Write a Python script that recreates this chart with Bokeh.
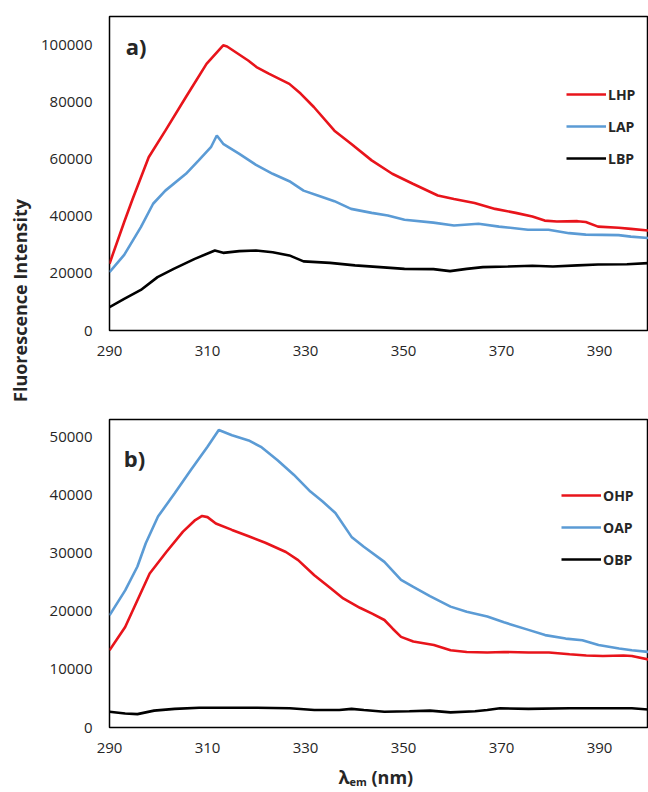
from bokeh.plotting import figure
from bokeh.layouts import row, column
from bokeh.models import Range1d, Label, Legend, LegendItem, FixedTicker, NumeralTickFormatter
from bokeh.embed import file_html
from bokeh.resources import INLINE
import math

# ---------------- data ----------------
x_ticks = [290, 310, 330, 350, 370, 390]
y_ticks_a = [0, 20000, 40000, 60000, 80000, 100000]
y_ticks_b = [0, 10000, 20000, 30000, 40000, 50000]

# panel a)
wl_lhp = [290, 293, 294.7, 298, 301.4, 305.6, 309.8, 313.2, 314, 318.3, 320, 322.5, 326.7, 329, 331.7,
          335.9, 339.3, 343.5, 347.7, 351.9, 357, 360.3, 364.5, 368.7, 372.9, 376.3, 378.8,
          381.3, 385.5, 387.2, 389.7, 393.9, 396.4, 400]
lhp = [23400, 38000, 46000, 60700, 70000, 81800, 93400, 99900, 99500, 94600, 92300, 90000, 86400, 83000,
       78300, 70000, 65400, 59600, 54900, 51400, 47300, 46100, 44700, 42600, 41200, 39900, 38500,
       38200, 38300, 38000, 36400, 36000, 35600, 35000]

wl_lap = [290, 293, 296.4, 298.9, 301.4, 305.6, 308.2, 310.7, 311.9, 313.2, 316.5, 319.9, 323.3,
          326.7, 329.6, 332.5, 335.9, 339.3, 343.5, 346.8, 350.2, 356.1, 360.3, 365.3, 369.5,
          375.4, 379.6, 383.8, 387.2, 393.9, 396.4, 400]
lap = [20400, 26500, 36200, 44400, 49000, 54900, 59600, 64200, 68300, 65400, 61900, 58000, 54900,
       52300, 49000, 47300, 45300, 42600, 41200, 40300, 38800, 37800, 36800, 37400, 36400,
       35300, 35300, 34100, 33600, 33400, 32900, 32400]

wl_lbp = [290, 293, 296.4, 299.8, 303.1, 307.4, 311.5, 313.2, 316.5, 319.9, 323.3, 326.7, 329.6,
          335, 340.1, 345.2, 350.2, 356.1, 359.5, 362.9, 366.2, 371.3, 376.3, 380.5, 385.5,
          389.7, 395.6, 400]
lbp = [8200, 11100, 14200, 18700, 21600, 25100, 28000, 27200, 27800, 28000, 27400, 26300, 24200,
       23700, 22800, 22200, 21600, 21500, 20800, 21600, 22200, 22400, 22700, 22400, 22800,
       23100, 23200, 23600]

# panel b)
wl_oap = [290, 293.2, 295.7, 297.4, 299.9, 303.3, 306.6, 310, 312.3, 315, 318.4, 320.9, 324.3,
          327.6, 331, 333.5, 336.1, 339.4, 341.9, 346.1, 349.5, 352, 355.4, 359.6, 362.9,
          367.1, 370.5, 375.5, 378.9, 383.1, 386.5, 389.8, 394, 396.6, 400]
oap = [19300, 23600, 27700, 31700, 36300, 40300, 44300, 48300, 51200, 50300, 49400, 48300, 46000,
       43500, 40600, 38900, 36900, 32800, 31100, 28500, 25400, 24200, 22600, 20800, 19900,
       19100, 18100, 16800, 15900, 15300, 15000, 14200, 13600, 13300, 13000]

wl_ohp = [290, 293.2, 295.7, 298.2, 301.6, 305, 307.5, 308.9, 310, 311.7, 315, 318.4, 321.8,
          326, 328.5, 331.8, 335.2, 337.7, 341.1, 343.6, 346.1, 347.8, 349.5, 352, 356.2,
          359.6, 362.9, 367.1, 370.5, 375.5, 379.7, 383.9, 387.3, 390.7, 394.9, 396.6, 400]
ohp = [13300, 17300, 21900, 26500, 30200, 33700, 35700, 36400, 36200, 35100, 34000, 32900, 31800,
       30200, 28800, 26200, 23900, 22200, 20600, 19600, 18500, 17000, 15600, 14800, 14200,
       13300, 13000, 12900, 13000, 12900, 12900, 12600, 12400, 12300, 12400, 12300, 11700]

wl_obp = [290, 293.2, 295.7, 299.1, 303.3, 308.3, 315, 320.1, 326.8, 331.8, 336.9, 339.4, 341.9,
          346.1, 351.2, 355.4, 359.6, 364.6, 367.1, 369.7, 375.5, 383.9, 390.7, 396.6, 400]
obp = [2700, 2400, 2300, 2900, 3200, 3400, 3400, 3400, 3300, 3000, 3000, 3200, 3000,
       2700, 2800, 2900, 2600, 2800, 3000, 3300, 3200, 3300, 3300, 3300, 3100]

RED = "#E8141B"
BLUE = "#5B9BD5"
BLACK = "#000000"
FONT = "Open Sans"
TXT = "#262626"
LEFT = 71          # left border of the panels (frame starts at x = 38 + 71 = 109)
FRAME_W = 539


def panel(height, top, bottom, ymax, yticks, series, tag, tag_y, legend_xy):
    p = figure(width=LEFT + FRAME_W, height=height, x_range=Range1d(290, 400),
               y_range=Range1d(0, ymax), output_backend="svg", toolbar_location=None, title=None,
               min_border_left=LEFT, min_border_right=0, min_border_top=top,
               min_border_bottom=bottom)
    p.xgrid.visible = False
    p.ygrid.visible = False
    p.outline_line_color = "black"
    p.outline_line_width = 1.5
    p.background_fill_color = "white"
    for ax in (p.xaxis[0], p.yaxis[0]):
        ax.axis_line_color = None
        ax.major_tick_in = 0
        ax.major_tick_out = 0
        ax.minor_tick_line_color = None
        ax.major_tick_line_color = None
        ax.major_label_text_font = FONT
        ax.major_label_text_font_size = "15px"
        ax.major_label_text_color = TXT
    p.xaxis.ticker = FixedTicker(ticks=x_ticks)
    p.yaxis.ticker = FixedTicker(ticks=yticks)
    p.yaxis.formatter = NumeralTickFormatter(format="0")
    p.xaxis.major_label_standoff = 15
    p.yaxis.major_label_standoff = 17
    items = []
    for (xs, ys, col, name) in series:
        r = p.line(xs, ys, line_color=col, line_width=2.6)
        items.append(LegendItem(label=name, renderers=[r]))
    leg = Legend(items=items, location=legend_xy, glyph_width=40, glyph_height=20,
                 label_height=20, spacing=12, padding=0, margin=0, label_standoff=2,
                 border_line_color=None, background_fill_alpha=0,
                 label_text_font=FONT, label_text_font_style="bold",
                 label_text_font_size="14px", label_text_color=TXT)
    p.add_layout(leg)
    p.add_layout(Label(x=tag[0], y=tag_y, text=tag[1], text_font=FONT, text_font_style="bold",
                       text_font_size="22px", text_align="left", text_baseline="middle",
                       text_color=TXT))
    return p


top = panel(400, 16, 70, 110000, y_ticks_a,
            [(wl_lhp, lhp, RED, "LHP"), (wl_lap, lap, BLUE, "LAP"), (wl_lbp, lbp, BLACK, "LBP")],
            (293.3, "a)"), 99800, (457, 162))
bot = panel(360, 19, 33, 53000, y_ticks_b,
            [(wl_ohp, ohp, RED, "OHP"), (wl_oap, oap, BLUE, "OAP"), (wl_obp, obp, BLACK, "OBP")],
            (292.9, "b)"), 46300, (452, 158))


def blank(w, h, left=0, top_b=0):
    fw = w - left
    fh = h - top_b
    f = figure(width=w, height=h, x_range=Range1d(0, fw), y_range=Range1d(0, fh),
               x_axis_type=None, y_axis_type=None, output_backend="svg", toolbar_location=None,
               title=None, min_border=0, min_border_left=left, min_border_right=0,
               min_border_top=top_b, min_border_bottom=0)
    f.xgrid.visible = False
    f.ygrid.visible = False
    f.outline_line_color = None
    return f


# y-axis title column (x 0..38, frame from y=16 down to 790)
ylab = blank(38, 790, left=0, top_b=16)
ylab.add_layout(Label(x=19, y=774 - (300 - 16), text="Fluorescence Intensity", angle=math.pi / 2,
                      text_font=FONT, text_font_style="bold", text_font_size="18px",
                      text_align="center", text_baseline="middle", text_color=TXT))

# x-axis title strip (frame aligned with the panels' frames)
xlab = blank(LEFT + FRAME_W, 30, left=LEFT, top_b=0)
xlab.add_layout(Label(x=229, y=14, text="λ", text_font=FONT, text_font_style="bold",
                      text_font_size="18px", text_align="left", text_baseline="middle", text_color=TXT))
xlab.add_layout(Label(x=240, y=9, text="em", text_font=FONT, text_font_style="bold",
                      text_font_size="11px", text_align="left", text_baseline="middle", text_color=TXT))
xlab.add_layout(Label(x=262, y=14, text="(nm)", text_font=FONT, text_font_style="bold",
                      text_font_size="18px", text_align="left", text_baseline="middle", text_color=TXT))

layout = row(ylab, column(top, bot, xlab))
open("out.html", "w").write(file_html(layout, INLINE))
